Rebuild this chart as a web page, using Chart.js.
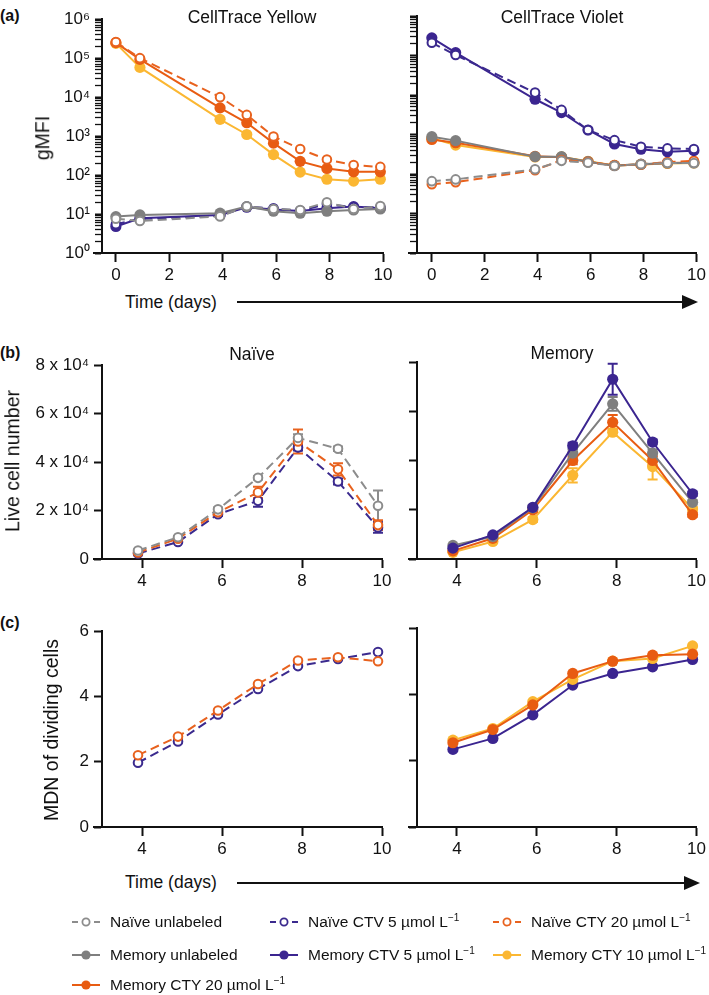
<!DOCTYPE html>
<html><head><meta charset="utf-8">
<script src="https://cdn.jsdelivr.net/npm/chart.js@4.4.1/dist/chart.umd.min.js"></script>
<style>
body{margin:0;background:#fff;width:709px;height:995px;overflow:hidden;position:relative;font-family:"Liberation Sans",Arial,sans-serif;color:#111}
canvas{position:absolute}
.t{position:absolute;white-space:nowrap;line-height:1}
.ttl{font-size:17.5px;transform:translate(-50%,-50%)}
.lt{font-size:16px;font-weight:bold;transform:translateY(-50%)}
.yt{font-size:19.5px;transform:translate(-50%,-50%) rotate(-90deg)}
.tm{font-size:17.5px;transform:translateY(-50%)}
.lg{font-size:15.5px;transform:translateY(-50%)}
.lg sup{font-size:10px;vertical-align:0;position:relative;top:-6px}
svg{position:absolute;left:0;top:0}
</style></head><body>

<canvas id="aL" width="355" height="285" style="left:42px;top:4px"></canvas>
<canvas id="aR" width="312" height="285" style="left:397px;top:4px"></canvas>
<canvas id="bL" width="375" height="245" style="left:22px;top:350px"></canvas>
<canvas id="bR" width="312" height="245" style="left:397px;top:350px"></canvas>
<canvas id="cL" width="355" height="247" style="left:42px;top:616px"></canvas>
<canvas id="cR" width="312" height="247" style="left:397px;top:616px"></canvas>

<div class="t lt" style="left:0;top:16px">(a)</div>
<div class="t lt" style="left:0;top:353px">(b)</div>
<div class="t lt" style="left:0;top:623px">(c)</div>

<div class="t ttl" style="left:252px;top:18px">CellTrace Yellow</div>
<div class="t ttl" style="left:562px;top:18px">CellTrace Violet</div>
<div class="t ttl" style="left:252px;top:355px">Naïve</div>
<div class="t ttl" style="left:562px;top:354px">Memory</div>

<div class="t yt" style="left:43px;top:138px">gMFI</div>
<div class="t yt" style="left:13px;top:461px">Live cell number</div>
<div class="t yt" style="left:52px;top:730px">MDN of dividing cells</div>

<div class="t tm" style="left:125px;top:303px">Time (days)</div>
<div class="t tm" style="left:125px;top:883px">Time (days)</div>

<svg width="709" height="995" id="deco">
  <line x1="237" y1="302" x2="686" y2="302" stroke="#111" stroke-width="2"/>
  <polygon points="682,295 698,302 682,309" fill="#111"/>
  <line x1="237" y1="883" x2="688" y2="883" stroke="#111" stroke-width="2"/>
  <polygon points="684,876 700,883 684,890" fill="#111"/>
</svg>

<div id="legend"></div>

<script>
// ---------------- DATA ----------------
const daysA = [0, 0.9, 3.9, 4.9, 5.9, 6.9, 7.9, 8.9, 9.9];
const daysBC = [3.9, 4.9, 5.9, 6.9, 7.9, 8.9, 9.9];
const xTicksA = [0, 2, 4, 6, 8, 10];
const xTicksBC = [4, 6, 8, 10];
const yTicksB = [0, 20000, 40000, 60000, 80000];
const yTicksC = [0, 2, 4, 6];

// (a) gMFI, CellTrace Yellow channel
const ctyNaiveUnlabeled = [7.6, 6.6, 8.7, 15.8, 13.5, 12.7, 20, 13.5, 16];
const ctyNaiveCTV       = [5.5, 7.5, 9, 15.5, 14, 12, 18, 15, 15];
const ctyNaiveCTY20     = [260000, 100000, 10000, 3500, 980, 465, 250, 180, 162];
const ctyMemUnlabeled   = [8.6, 9.5, 10.5, 15.5, 11.8, 10.5, 11.8, 12.7, 13.5];
const ctyMemCTV         = [4.8, 7.8, 9.5, 15, 13, 12, 14, 15.5, 14];
const ctyMemCTY10       = [240000, 58000, 2700, 1100, 335, 119, 78, 70, 78];
const ctyMemCTY20       = [250000, 93000, 5300, 2200, 660, 225, 148, 121, 121];

// (a) gMFI, CellTrace Violet channel
const ctvNaiveUnlabeled = [66, 73, 132, 215, 194, 162, 177, 190, 190];
const ctvNaiveCTV       = [210000, 103000, 11500, 4200, 1300, 720, 490, 445, 430];
const ctvNaiveCTY20     = [55, 62, 125, 225, 200, 165, 175, 200, 215];
const ctvMemUnlabeled   = [880, 700, 275, 275, 205, 162, 177, 190, 190];
const ctvMemCTV         = [280000, 118000, 7800, 3600, 1300, 575, 424, 366, 390];
const ctvMemCTY10       = [800, 540, 270, 270, 210, 165, 175, 185, 190];
const ctvMemCTY20       = [750, 620, 280, 265, 205, 165, 175, 190, 195];

// (b) live cell number (mean) and error
const liveNaiveUnlabeled = [3500, 9000, 20500, 33500, 50000, 45500, 22000];
const liveNaiveCTV       = [2300, 7000, 18500, 24000, 46000, 32000, 13000];
const liveNaiveCTY20     = [2700, 8400, 19300, 27500, 48500, 37000, 14000];
const liveNaiveUnlabeledErr = [300, 500, 800, 700, 1500, 900, 6300];
const liveNaiveCTVErr       = [300, 400, 700, 2400, 1200, 1200, 2200];
const liveNaiveCTY20Err     = [300, 500, 800, 2300, 5000, 2500, 2000];
const liveMemUnlabeled = [5500, 9100, 20800, 43000, 63000, 43000, 23000];
const liveMemCTV       = [4400, 9800, 21000, 46000, 73000, 47500, 26500];
const liveMemCTY10     = [2700, 7100, 16000, 34000, 51500, 37500, 20300];
const liveMemCTY20     = [3300, 8400, 20000, 40000, 55500, 40000, 18000];
const liveMemUnlabeledErr = [400, 500, 800, 1500, 2800, 1500, 1000];
const liveMemCTVErr       = [400, 500, 800, 1200, 6300, 1000, 900];
const liveMemCTY10Err     = [300, 400, 1000, 2900, 1400, 5200, 800];
const liveMemCTY20Err     = [300, 500, 900, 1500, 3000, 1800, 900];

// (c) mean division number of dividing cells
const mdnNaiveCTV   = [1.97, 2.62, 3.45, 4.23, 4.93, 5.15, 5.36];
const mdnNaiveCTY20 = [2.2, 2.77, 3.57, 4.38, 5.1, 5.2, 5.08];
const mdnMemCTV     = [2.34, 2.67, 3.38, 4.28, 4.63, 4.83, 5.05];
const mdnMemCTY10   = [2.62, 2.97, 3.78, 4.45, 5.0, 5.08, 5.46];
const mdnMemCTY20   = [2.54, 2.94, 3.68, 4.63, 5.0, 5.18, 5.21];

// ---------------- STYLES ----------------
const STYLES = {
  naiveUnl:   {label:'Naïve unlabeled', color:'#8c8c8c', dash:true, open:true},
  naiveCTV:   {label:'Naïve CTV 5 µmol L⁻¹', color:'#3b2a8e', dash:true, open:true},
  naiveCTY20: {label:'Naïve CTY 20 µmol L⁻¹', color:'#e8621e', dash:true, open:true},
  memUnl:     {label:'Memory unlabeled', color:'#7f7f7f'},
  memCTV:     {label:'Memory CTV 5 µmol L⁻¹', color:'#3b2590'},
  memCTY10:   {label:'Memory CTY 10 µmol L⁻¹', color:'#fbb732'},
  memCTY20:   {label:'Memory CTY 20 µmol L⁻¹', color:'#e85c12'}
};
const FONT = '"Liberation Sans", Arial, sans-serif';
Chart.defaults.font.family = FONT;
Chart.defaults.color = '#111';

function ds(key, xs, ys, err){
  const st = STYLES[key];
  return {label: st.label, data: xs.map((x,i)=>({x:x, y:ys[i]})), err: err || null,
    borderColor: st.color, backgroundColor: st.open ? '#fff' : st.color,
    pointBackgroundColor: st.open ? '#fff' : st.color, pointBorderColor: st.color,
    pointRadius: st.open ? 4.3 : 5.6, pointBorderWidth: st.open ? 2 : 0, pointHoverRadius: 0,
    borderWidth: 2, borderDash: st.dash ? [9,5] : [], tension: 0, clip: false, fill: false};
}

const SUP = ['⁰','¹','²','³','⁴','⁵','⁶','⁷','⁸','⁹'];
function isPow10(v){ const k = Math.round(Math.log10(v)); return Math.abs(v - Math.pow(10,k)) < 1e-6*v; }

const errPlugin = {id:'errbars', beforeDatasetsDraw(chart){
  const ctx = chart.ctx, xs = chart.scales.x, ys = chart.scales.y;
  chart.data.datasets.forEach(d => {
    if (!d.err) return;
    ctx.save(); ctx.strokeStyle = d.borderColor; ctx.lineWidth = 2; ctx.setLineDash([]);
    d.data.forEach((p,i) => {
      const e = d.err[i]; if (!e) return;
      const x = xs.getPixelForValue(p.x), y1 = ys.getPixelForValue(p.y + e), y2 = ys.getPixelForValue(p.y - e);
      ctx.beginPath();
      ctx.moveTo(x,y1); ctx.lineTo(x,y2);
      ctx.moveTo(x-5,y1); ctx.lineTo(x+5,y1);
      ctx.moveTo(x-5,y2); ctx.lineTo(x+5,y2);
      ctx.stroke();
    });
    ctx.restore();
  });
}};
const axisPlugin = {id:'axisdeco', afterDraw(chart){
  const ctx = chart.ctx, ca = chart.chartArea;
  ctx.save(); ctx.strokeStyle = '#111'; ctx.setLineDash([]);
  // x axis overhang to the left of y axis
  ctx.lineWidth = 2; ctx.beginPath(); ctx.moveTo(ca.left - 9, ca.bottom); ctx.lineTo(ca.left, ca.bottom); ctx.stroke();
  ctx.restore();
}};

function xScale(min, max, ticks){
  return {type:'linear', min:min, max:max,
    afterBuildTicks: s => { s.ticks = ticks.map(v => ({value:v})); },
    afterFit: s => { s.height = 36; },
    grid:{drawOnChartArea:false, drawTicks:true, tickLength:9, tickWidth:2, tickColor:'#111'},
    border:{display:true, color:'#111', width:2},
    ticks:{color:'#111', font:{size:17, family:FONT}, padding:3, maxRotation:0, autoSkip:false}};
}
function logY(showLabels, yW){
  const tks = [];
  for (let k = 0; k < 6; k++) for (let m = 1; m < 10; m++) tks.push(m*Math.pow(10,k));
  tks.push(1e6);
  return {type:'logarithmic', min:1, max:1e6,
    afterBuildTicks: s => { s.ticks = tks.map(v => ({value:v})); },
    afterFit: s => { s.width = yW; },
    grid:{display:true, drawOnChartArea:false, drawTicks:true, tickLength:7,
      tickWidth: c => (c.tick && isPow10(c.tick.value)) ? 2 : 1.3, tickColor:'#111'},
    border:{display:true, color:'#111', width:2},
    ticks:{display:showLabels, autoSkip:false, color:'#111', font:{size:17, family:FONT}, padding:5,
      callback: v => isPow10(v) ? '10' + SUP[Math.round(Math.log10(v))] : ''}};
}
function linY(min, max, ticks, showLabels, yW, fmt){
  return {type:'linear', min:min, max:max,
    afterBuildTicks: s => { s.ticks = ticks.map(v => ({value:v})); },
    afterFit: s => { s.width = yW; },
    grid:{drawOnChartArea:false, drawTicks:true, tickLength:8, tickWidth:2, tickColor:'#111'},
    border:{display:true, color:'#111', width:2},
    ticks:{display:showLabels, autoSkip:false, color:'#111', font:{size:17, family:FONT}, padding:5, callback: fmt}};
}
function make(id, datasets, x, y, pr){
  new Chart(document.getElementById(id), {
    type:'line', data:{datasets:datasets},
    options:{responsive:false, animation:false, devicePixelRatio:1,
      layout:{padding:{top:12, right:pr, left:0, bottom:0}},
      plugins:{legend:{display:false}, tooltip:{enabled:false}},
      scales:{x:x, y:y}},
    plugins:[errPlugin, axisPlugin]
  });
}

// (a)
make('aL', [
  ds('naiveCTY20', daysA, ctyNaiveCTY20), ds('memCTY20', daysA, ctyMemCTY20), ds('memCTY10', daysA, ctyMemCTY10),
  ds('naiveUnl', daysA, ctyNaiveUnlabeled), ds('memUnl', daysA, ctyMemUnlabeled),
  ds('naiveCTV', daysA, ctyNaiveCTV), ds('memCTV', daysA, ctyMemCTV)
], xScale(-0.52, 10, xTicksA), logY(true, 60), 14);
make('aR', [
  ds('naiveCTV', daysA, ctvNaiveCTV), ds('memCTV', daysA, ctvMemCTV),
  ds('naiveUnl', daysA, ctvNaiveUnlabeled), ds('naiveCTY20', daysA, ctvNaiveCTY20),
  ds('memUnl', daysA, ctvMemUnlabeled), ds('memCTY20', daysA, ctvMemCTY20), ds('memCTY10', daysA, ctvMemCTY10)
], xScale(-0.56, 10, xTicksA), logY(false, 20), 11);

// (b)
const fmtB = v => v === 0 ? '0' : (v/10000) + ' x 10⁴';
make('bL', [
  ds('naiveUnl', daysBC, liveNaiveUnlabeled, liveNaiveUnlabeledErr),
  ds('naiveCTY20', daysBC, liveNaiveCTY20, liveNaiveCTY20Err),
  ds('naiveCTV', daysBC, liveNaiveCTV, liveNaiveCTVErr)
], xScale(3, 10, xTicksBC), linY(0, 80000, yTicksB, true, 80, fmtB), 15);
make('bR', [
  ds('memCTV', daysBC, liveMemCTV, liveMemCTVErr),
  ds('memUnl', daysBC, liveMemUnlabeled, liveMemUnlabeledErr),
  ds('memCTY20', daysBC, liveMemCTY20, liveMemCTY20Err),
  ds('memCTY10', daysBC, liveMemCTY10, liveMemCTY10Err)
], xScale(3, 10, xTicksBC), linY(0, 80000, yTicksB, false, 20, fmtB), 11);

// (c)
make('cL', [
  ds('naiveCTY20', daysBC, mdnNaiveCTY20), ds('naiveCTV', daysBC, mdnNaiveCTV)
], xScale(3, 10, xTicksBC), linY(0, 6, yTicksC, true, 60, v => String(v)), 15);
make('cR', [
  ds('memCTY20', daysBC, mdnMemCTY20), ds('memCTY10', daysBC, mdnMemCTY10), ds('memCTV', daysBC, mdnMemCTV)
], xScale(3, 10, xTicksBC), linY(0, 6, yTicksC, false, 20, v => String(v)), 11);

// ---------------- LEGEND ----------------
const legendItems = [
  ['naiveUnl', 72, 922, 'Naïve unlabeled'],
  ['naiveCTV', 270, 922, 'Naïve CTV 5 µmol L<sup>−1</sup>'],
  ['naiveCTY20', 493, 922, 'Naïve CTY 20 µmol L<sup>−1</sup>'],
  ['memUnl', 72, 955, 'Memory unlabeled'],
  ['memCTV', 270, 955, 'Memory CTV 5 µmol L<sup>−1</sup>'],
  ['memCTY10', 493, 955, 'Memory CTY 10 µmol L<sup>−1</sup>'],
  ['memCTY20', 72, 985, 'Memory CTY 20 µmol L<sup>−1</sup>']
];
const svg = document.getElementById('deco');
const leg = document.getElementById('legend');
let svgHtml = '';
legendItems.forEach(([key, x, y, txt]) => {
  const st = STYLES[key];
  const cx = x + 14;
  if (st.open) {
    svgHtml += `<line x1="${x}" y1="${y}" x2="${x+6}" y2="${y}" stroke="${st.color}" stroke-width="2"/>`;
    svgHtml += `<line x1="${x+22}" y1="${y}" x2="${x+28}" y2="${y}" stroke="${st.color}" stroke-width="2"/>`;
    svgHtml += `<circle cx="${cx}" cy="${y}" r="3.6" fill="#fff" stroke="${st.color}" stroke-width="1.8"/>`;
  } else {
    svgHtml += `<line x1="${x}" y1="${y}" x2="${x+28}" y2="${y}" stroke="${st.color}" stroke-width="2"/>`;
    svgHtml += `<circle cx="${cx}" cy="${y}" r="4.6" fill="${st.color}"/>`;
  }
  const d = document.createElement('div');
  d.className = 't lg';
  d.style.left = (x + 38) + 'px';
  d.style.top = y + 'px';
  d.innerHTML = txt;
  leg.appendChild(d);
});
svg.insertAdjacentHTML('beforeend', svgHtml);
</script>
</body></html>
